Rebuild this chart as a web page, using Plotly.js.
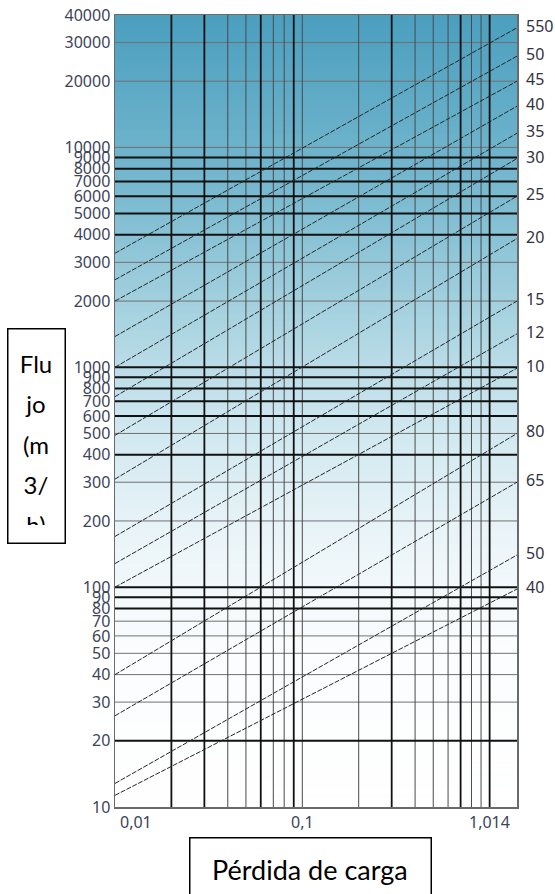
<!DOCTYPE html>
<html>
<head>
<meta charset="utf-8">
<script src="https://cdn.plot.ly/plotly-3.0.1.min.js"></script>
<style>
html,body{margin:0;padding:0;background:#ffffff;}
#chart{width:555px;height:894px;}
</style>
</head>
<body>
<div id="chart"></div>
<script>
// ---- axis extents ----
const X_MIN = 0.01;
const X_MAX = 1.4;
const Y_MIN = 10;
const Y_MAX = 40000;

// ---- tick labels ----
const Y_TICKS = [10,20,30,40,50,60,70,80,90,100,200,300,400,500,600,700,800,900,
                 1000,2000,3000,4000,5000,6000,7000,8000,9000,10000,20000,30000,40000];
const X_TICK_VALUES = [0.01, 0.1, 1];
const X_TICK_TEXT = ["0,01", "0,1", "1,014"];

// ---- grid lines ----
const X_GRID_MAJOR = [0.02, 0.03, 0.06, 0.09, 0.3, 0.7, 1.0];
const X_GRID_MINOR = [0.04, 0.05, 0.07, 0.08, 0.1, 0.2, 0.4, 0.5, 0.6, 0.8, 0.9];
const Y_GRID_MAJOR = [20, 80, 90, 100, 400, 600, 700, 800, 900, 1000, 4000, 5000, 6000, 7000, 8000, 9000];
const Y_GRID_MINOR = [30, 40, 50, 60, 70, 200, 300, 500, 2000, 3000, 10000, 20000, 30000];

// ---- pipe lines (flow at left edge and at right edge of the chart) ----
const PIPE_LABELS   = ["550","50","45","40","35","30","25","20","15","12","10","80","65","50","40"];
const FLOW_AT_LEFT  = [3300, 2500, 2000, 1380, 1000, 735, 490, 310, 170, 128, 100, 40, 26, 12.8, 11.3];
const FLOW_AT_RIGHT = [35000, 26000, 20000, 15400, 11600, 8900, 6000, 3850, 2000, 1420, 990, 500, 300, 140, 98];

// ---- titles ----
const Y_TITLE_LINES = ['Flu', 'jo', '(m', '3/', 'h)'];
const X_TITLE = 'Pérdida de carga';

// ---- layout geometry ----
const W = 555, H = 894;
const M = {l:115, r:38, t:15, b:87};
const PW = W - M.l - M.r, PH = H - M.t - M.b;
const px2paperX = px => (px - M.l) / PW;
const px2paperY = py => (H - M.b - py) / PH;

// background gradient
function gradientImage(){
  const c = document.createElement('canvas');
  c.width = 4; c.height = 400;
  const g = c.getContext('2d');
  const gr = g.createLinearGradient(0,0,0,400);
  gr.addColorStop(0.00, '#4b9fbf');
  gr.addColorStop(0.22, '#78b9cf');
  gr.addColorStop(0.38, '#a8d3e1');
  gr.addColorStop(0.52, '#d0e8f0');
  gr.addColorStop(0.66, '#ebf5f9');
  gr.addColorStop(0.80, '#fbfdfe');
  gr.addColorStop(1.00, '#ffffff');
  g.fillStyle = gr; g.fillRect(0,0,4,400);
  return c.toDataURL('image/png');
}

function vLines(vals){
  const x=[], y=[];
  vals.forEach(v => { x.push(v, v, null); y.push(Y_MIN, Y_MAX, null); });
  return {x, y};
}
function hLines(vals){
  const x=[], y=[];
  vals.forEach(v => { x.push(X_MIN, X_MAX, null); y.push(v, v, null); });
  return {x, y};
}

const traces = [];
const vMin = vLines(X_GRID_MINOR), hMin = hLines(Y_GRID_MINOR);
const vMaj = vLines(X_GRID_MAJOR), hMaj = hLines(Y_GRID_MAJOR);
traces.push({type:'scatter', mode:'lines', x:hMin.x, y:hMin.y, line:{color:'#707070', width:1}, hoverinfo:'skip', showlegend:false});
traces.push({type:'scatter', mode:'lines', x:vMin.x, y:vMin.y, line:{color:'#4a4a4a', width:1}, hoverinfo:'skip', showlegend:false});
traces.push({type:'scatter', mode:'lines', x:hMaj.x, y:hMaj.y, line:{color:'#111111', width:2}, hoverinfo:'skip', showlegend:false});
traces.push({type:'scatter', mode:'lines', x:vMaj.x, y:vMaj.y, line:{color:'#111111', width:1.8}, hoverinfo:'skip', showlegend:false});

PIPE_LABELS.forEach((lab, i) => {
  traces.push({
    type:'scatter', mode:'lines', name:lab,
    x:[X_MIN, X_MAX], y:[FLOW_AT_LEFT[i], FLOW_AT_RIGHT[i]],
    line:{color:'#262626', width:1, dash:'5px,1.5px'},
    showlegend:false
  });
});

const annotations = [];
PIPE_LABELS.forEach((lab, i) => {
  annotations.push({
    xref:'paper', x:1, xanchor:'left', xshift:7,
    yref:'y', y:Math.log10(FLOW_AT_RIGHT[i]), yanchor:'middle', yshift:2,
    text:lab, showarrow:false,
    font:{family:'Noto Sans, Open Sans, sans-serif', size:16, color:'#333340'}
  });
});
X_TICK_VALUES.forEach((v, i) => {
  annotations.push({
    xref:'x', x:Math.log10(v), xanchor: i === 0 ? 'left' : 'center', xshift: i === 0 ? 3 : 0,
    yref:'paper', y:0, yanchor:'top', yshift:-2,
    text:X_TICK_TEXT[i], showarrow:false,
    font:{family:'Noto Sans, Open Sans, sans-serif', size:16, color:'#3c4458'}
  });
});
// y axis title: box
annotations.push({
  xref:'paper', x:px2paperX(36), xanchor:'center',
  yref:'paper', y:px2paperY(328), yanchor:'top',
  width:54, height:211, text:' ',
  showarrow:false, bgcolor:'#ffffff', bordercolor:'#000000', borderwidth:1.5, borderpad:1,
  font:{family:'Lato, sans-serif', size:12, color:'#000000'}
});
// y axis title: text, clipped near the box bottom
annotations.push({
  xref:'paper', x:px2paperX(36), xanchor:'center',
  yref:'paper', y:px2paperY(349), yanchor:'top',
  width:54, height:176, valign:'top', align:'center',
  text:Y_TITLE_LINES.map(s => '<span style="font-size:24px">'+s+'</span>').join('<br>'),
  showarrow:false, bgcolor:'rgba(0,0,0,0)', borderwidth:0, borderpad:0,
  font:{family:'Lato, sans-serif', size:31, color:'#000000'}
});
// x axis title: box (runs past the bottom edge)
annotations.push({
  xref:'paper', x:px2paperX(310), xanchor:'center',
  yref:'paper', y:px2paperY(837), yanchor:'top',
  width:238, height:80, text:' ',
  showarrow:false, bgcolor:'#ffffff', bordercolor:'#000000', borderwidth:1.5, borderpad:1,
  font:{family:'Lato, sans-serif', size:12, color:'#000000'}
});
// x axis title: text
annotations.push({
  xref:'paper', x:px2paperX(310), xanchor:'center',
  yref:'paper', y:px2paperY(869), yanchor:'middle',
  text:X_TITLE, showarrow:false,
  font:{family:'Lato, sans-serif', size:27, color:'#000000'}
});

const layout = {
  width:W, height:H,
  margin:{l:M.l, r:M.r, t:M.t, b:M.b, pad:0},
  paper_bgcolor:'#ffffff',
  plot_bgcolor:'rgba(0,0,0,0)',
  showlegend:false,
  xaxis:{
    type:'log', range:[Math.log10(X_MIN), Math.log10(X_MAX)],
    showgrid:false, zeroline:false, showticklabels:false, ticks:'',
    showline:true, mirror:true, linecolor:'#6a6a6a', linewidth:1.5
  },
  yaxis:{
    type:'log', range:[Math.log10(Y_MIN), Math.log10(Y_MAX)],
    tickmode:'array', tickvals:Y_TICKS, ticktext:Y_TICKS.map(String),
    showgrid:false, zeroline:false, ticks:'',
    tickfont:{family:'Noto Sans, Open Sans, sans-serif', size:16, color:'#3c4458'},
    showline:true, mirror:true, linecolor:'#6a6a6a', linewidth:1.5
  },
  images:[{
    source:gradientImage(), xref:'paper', yref:'paper', x:0, y:1, sizex:1, sizey:1,
    xanchor:'left', yanchor:'top', sizing:'stretch', layer:'below'
  }],
  annotations:annotations
};

Plotly.newPlot('chart', traces, layout, {displayModeBar:false, staticPlot:true});
</script>
</body>
</html>
